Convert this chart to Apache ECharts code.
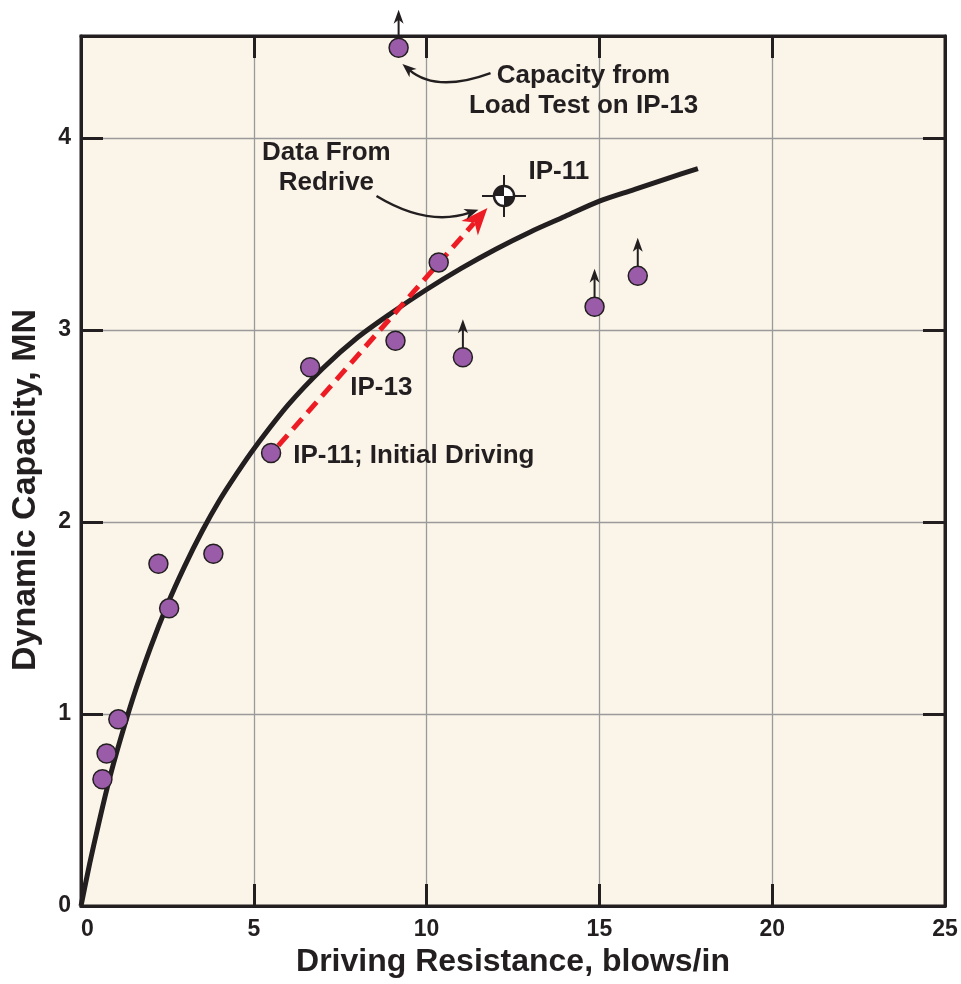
<!DOCTYPE html>
<html><head><meta charset="utf-8">
<script src="https://cdn.jsdelivr.net/npm/echarts@6/dist/echarts.min.js"></script>
<style>html,body{margin:0;padding:0;background:#fff}#c{width:961px;height:984px}</style>
</head><body><div id="c"></div>
<script>
// ---- data ----
const xTickValues = [0, 5, 10, 15, 20, 25];
const yTickValues = [0, 1, 2, 3, 4];
// measured points (plain)
const pointX = [0.62, 0.74, 1.08, 2.24, 2.55, 3.83, 5.50, 6.63, 9.10, 10.35];
const pointY = [0.660, 0.794, 0.972, 1.782, 1.550, 1.834, 2.359, 2.805, 2.943, 3.351];
// points that are lower bounds (arrow up)
const boundX = [11.05, 14.86, 16.11, 9.19];
const boundY = [2.857, 3.120, 3.281, 4.469];
// fitted curve
const curveX = [0, 0.25, 0.5, 0.75, 1, 1.5, 2, 2.5, 3, 3.5, 4, 4.5, 5, 6, 7, 8, 9, 10, 11, 12, 13, 14, 15, 16, 17, 17.85];
const curveY = [0, 0.22, 0.42, 0.61, 0.78, 1.08, 1.34, 1.57, 1.77, 1.95, 2.11, 2.25, 2.38, 2.61, 2.80, 2.96, 3.09, 3.21, 3.32, 3.42, 3.51, 3.59, 3.67, 3.73, 3.79, 3.84];
// IP-11 redrive
const redriveX = [12.24];
const redriveY = [3.697];
// red dashed arrow (IP-11 initial -> redrive)
const redArrowX = [5.71, 11.76];
const redArrowY = [2.397, 3.635];
// curved annotation arrows: start, control, tip
const noteArrowStartX = [11.85, 8.55];
const noteArrowStartY = [4.337, 3.697];
const noteArrowCtrlX = [10.28, 10.02];
const noteArrowCtrlY = [4.233, 3.536];
const noteArrowTipX = [9.30, 11.50];
const noteArrowTipY = [4.384, 3.625];
// notes
const noteText = ['Capacity from\nLoad Test on IP-13', 'Data From\nRedrive', 'IP-11', 'IP-13', 'IP-11; Initial Driving'];
const noteX = [14.54, 7.10, 12.95, 7.79, 6.14];
const noteY = [4.243, 3.843, 3.822, 2.699, 2.345];
const noteAlign = ['center', 'center', 'left', 'left', 'left'];

const INK = '#231F20';
const FONT = '"Liberation Sans", Arial, Helvetica, sans-serif';

function head(tip, dir, L, W) {
  const n = [-dir[1], dir[0]];
  const b = [tip[0] - L * dir[0], tip[1] - L * dir[1]];
  const m = [tip[0] - 0.72 * L * dir[0], tip[1] - 0.72 * L * dir[1]];
  return [tip, [b[0] + W * n[0], b[1] + W * n[1]], m, [b[0] - W * n[0], b[1] - W * n[1]]];
}
function unit(a, b) {
  const dx = b[0] - a[0], dy = b[1] - a[1];
  const l = Math.sqrt(dx * dx + dy * dy);
  return [dx / l, dy / l];
}

const chart = echarts.init(document.getElementById('c'), null, {renderer: 'canvas'});

function axisBase() {
  return {
    type: 'value',
    axisLine: {show: true, onZero: false, lineStyle: {color: INK, width: 3}},
    axisTick: {show: true, inside: true, length: 22, lineStyle: {color: INK, width: 3}},
  };
}

const option = {
  backgroundColor: '#ffffff',
  animation: false,
  grid: {left: 81, right: 16, top: 36, bottom: 78, show: true, backgroundColor: '#FBF5E9', borderColor: INK, borderWidth: 3},
  xAxis: [
    Object.assign(axisBase(), {
      min: xTickValues[0], max: xTickValues[xTickValues.length - 1], interval: 5, position: 'bottom',
      axisLabel: {show: true, margin: 12, fontSize: 23, fontWeight: 'bold', color: INK, fontFamily: FONT,
        alignMinLabel: 'left', formatter: v => xTickValues.includes(v) ? String(v) : ''},
      splitLine: {show: true, lineStyle: {color: '#9a9a9a', width: 1.3}},
      name: 'Driving Resistance, blows/in', nameLocation: 'middle', nameGap: 38,
      nameTextStyle: {fontSize: 32, fontWeight: 'bold', color: INK, fontFamily: FONT}
    }),
    Object.assign(axisBase(), {
      min: 0, max: 25, interval: 5, position: 'top',
      axisLabel: {show: false}, splitLine: {show: false}
    })
  ],
  yAxis: [
    Object.assign(axisBase(), {
      min: yTickValues[0], max: 4.53, interval: 1, position: 'left',
      axisLabel: {show: true, margin: 10, fontSize: 23, fontWeight: 'bold', color: INK, fontFamily: FONT,
        formatter: v => yTickValues.includes(v) ? String(v) : ''},
      splitLine: {show: true, lineStyle: {color: '#9a9a9a', width: 1.3}}
    }),
    Object.assign(axisBase(), {
      min: 0, max: 4.53, interval: 1, position: 'right',
      axisLabel: {show: false}, splitLine: {show: false}
    })
  ],
  graphic: [{
    type: 'text', x: 26, y: 490, rotation: Math.PI / 2,
    style: {text: 'Dynamic Capacity, MN', font: 'bold 34px ' + FONT, fill: INK, textAlign: 'center', textVerticalAlign: 'middle'}
  }],
  series: [
    {
      name: 'curve', type: 'line', smooth: 0.3, symbol: 'none', z: 2,
      lineStyle: {color: INK, width: 5},
      data: curveX.map((x, i) => [x, curveY[i]])
    },
    {
      name: 'redArrow', type: 'custom', z: 3, clip: false,
      data: [[redArrowX[0], redArrowY[0], redArrowX[1], redArrowY[1]]],
      renderItem(params, api) {
        const a = api.coord([api.value(0), api.value(1)]);
        const b = api.coord([api.value(2), api.value(3)]);
        const d = unit(a, b);
        const end = [b[0] - 20 * d[0], b[1] - 20 * d[1]];
        return {type: 'group', children: [
          {type: 'line', shape: {x1: a[0], y1: a[1], x2: end[0], y2: end[1]},
            style: {stroke: '#ED1C24', lineWidth: 5, lineDash: [14, 8]}},
          {type: 'polygon', shape: {points: head(b, d, 27, 11)}, style: {fill: '#ED1C24'}}
        ]};
      }
    },
    {
      name: 'points', type: 'scatter', z: 4, symbolSize: 19,
      itemStyle: {color: '#9A5CA8', borderColor: INK, borderWidth: 1.5, opacity: 1},
      data: pointX.map((x, i) => [x, pointY[i]])
    },
    {
      name: 'bounds', type: 'scatter', z: 4, symbolSize: 19, clip: false,
      itemStyle: {color: '#9A5CA8', borderColor: INK, borderWidth: 1.5, opacity: 1},
      data: boundX.map((x, i) => [x, boundY[i]])
    },
    {
      name: 'boundArrows', type: 'custom', z: 5, clip: false,
      data: boundX.map((x, i) => [x, boundY[i]]),
      renderItem(params, api) {
        const p = api.coord([api.value(0), api.value(1)]);
        const tip = [p[0], p[1] - 38];
        return {type: 'group', children: [
          {type: 'line', shape: {x1: p[0], y1: p[1] - 9, x2: p[0], y2: tip[1] + 8}, style: {stroke: INK, lineWidth: 2}},
          {type: 'polygon', shape: {points: head(tip, [0, -1], 14, 5)}, style: {fill: INK}}
        ]};
      }
    },
    {
      name: 'redrive', type: 'custom', z: 6, clip: false,
      data: redriveX.map((x, i) => [x, redriveY[i]]),
      renderItem(params, api) {
        const p = api.coord([api.value(0), api.value(1)]);
        const r = 10;
        return {type: 'group', children: [
          {type: 'line', shape: {x1: p[0] - 22, y1: p[1], x2: p[0] + 22, y2: p[1]}, style: {stroke: INK, lineWidth: 2}},
          {type: 'line', shape: {x1: p[0], y1: p[1] - 21, x2: p[0], y2: p[1] + 21}, style: {stroke: INK, lineWidth: 2}},
          {type: 'circle', shape: {cx: p[0], cy: p[1], r: r}, style: {fill: '#ffffff'}},
          {type: 'sector', shape: {cx: p[0], cy: p[1], r: r, r0: 0, startAngle: Math.PI, endAngle: Math.PI * 1.5, clockwise: true}, style: {fill: INK}},
          {type: 'sector', shape: {cx: p[0], cy: p[1], r: r, r0: 0, startAngle: 0, endAngle: Math.PI * 0.5, clockwise: true}, style: {fill: INK}},
          {type: 'circle', shape: {cx: p[0], cy: p[1], r: r}, style: {fill: 'none', stroke: INK, lineWidth: 2.5}}
        ]};
      }
    },
    {
      name: 'noteArrows', type: 'custom', z: 6, clip: false,
      data: noteArrowStartX.map((x, i) => [x, noteArrowStartY[i], noteArrowCtrlX[i], noteArrowCtrlY[i], noteArrowTipX[i], noteArrowTipY[i]]),
      renderItem(params, api) {
        const a = api.coord([api.value(0), api.value(1)]);
        const c = api.coord([api.value(2), api.value(3)]);
        const b = api.coord([api.value(4), api.value(5)]);
        const d = unit(c, b);
        const end = [b[0] - 9 * d[0], b[1] - 9 * d[1]];
        return {type: 'group', children: [
          {type: 'bezierCurve', shape: {x1: a[0], y1: a[1], cpx1: c[0], cpy1: c[1], x2: end[0], y2: end[1]},
            style: {stroke: INK, lineWidth: 2.5, fill: 'none'}},
          {type: 'polygon', shape: {points: head(b, d, 14, 5.5)}, style: {fill: INK}}
        ]};
      }
    },
    {
      name: 'notes', type: 'custom', z: 7, clip: false,
      data: noteX.map((x, i) => [x, noteY[i], i]),
      renderItem(params, api) {
        const p = api.coord([api.value(0), api.value(1)]);
        const i = api.value(2);
        return {type: 'text', x: p[0], y: p[1],
          style: {text: noteText[i], font: 'bold 26px ' + FONT, fill: INK, textAlign: noteAlign[i], textVerticalAlign: 'middle', lineHeight: 30}};
      }
    }
  ]
};
chart.setOption(option);
</script>
</body></html>
